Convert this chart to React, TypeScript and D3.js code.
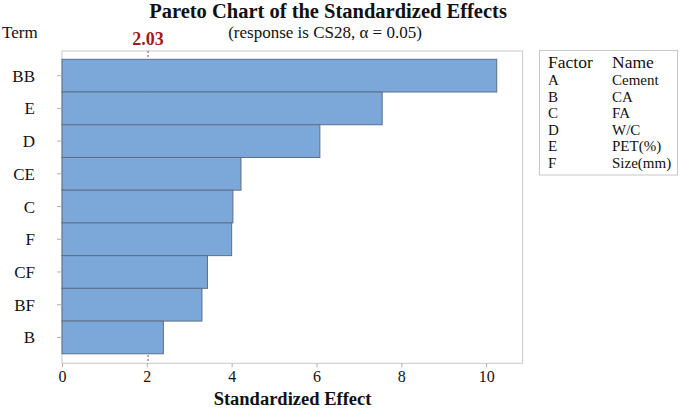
import React, { useRef, useEffect } from 'react';
import * as d3 from 'd3';

const terms = ['BB', 'E', 'D', 'CE', 'C', 'F', 'CF', 'BF', 'B'];
const effects = [10.25, 7.55, 6.08, 4.22, 4.03, 4.0, 3.43, 3.3, 2.39];
const xTicks = [0, 2, 4, 6, 8, 10];
const criticalValue = 2.03;
const factorCodes = ['A', 'B', 'C', 'D', 'E', 'F'];
const factorNames = ['Cement', 'CA', 'FA', 'W/C', 'PET(%)', 'Size(mm)'];

const App = () => {
    const chartRef = useRef<SVGSVGElement>(null);

    useEffect(() => {
        const width = 685;
        const height = 408;
        const frame = { left: 62, right: 522.6, top: 51, bottom: 363.3 };
        const font = "'Liberation Serif', 'Times New Roman', serif";

        const x = d3.scaleLinear()
            .domain([0, 10.86])
            .range([frame.left, frame.right]);

        const y = d3.scaleBand()
            .domain(terms)
            .range([59.3, 353.8])
            .padding(0);

        const svg = d3.select(chartRef.current)
            .attr('width', width)
            .attr('height', height)
            .attr('font-family', font);

        svg.selectAll('*').remove();

        const label = (g, px, py, txt, size, opts: any = {}) =>
            g.append('text')
                .attr('x', px)
                .attr('y', py)
                .attr('text-anchor', opts.anchor || 'start')
                .attr('fill', opts.color || '#111')
                .style('font-family', font)
                .style('font-size', size + 'px')
                .style('font-weight', opts.bold ? 'bold' : 'normal')
                .text(txt);

        // frame
        svg.append('rect')
            .attr('x', frame.left)
            .attr('y', frame.top)
            .attr('width', frame.right - frame.left)
            .attr('height', frame.bottom - frame.top)
            .attr('fill', 'none')
            .attr('stroke', '#c8c8c8')
            .attr('stroke-width', 1);

        // reference line (behind bars)
        svg.append('line')
            .attr('x1', x(criticalValue))
            .attr('x2', x(criticalValue))
            .attr('y1', frame.top)
            .attr('y2', frame.bottom)
            .attr('stroke', '#a52a2a')
            .attr('stroke-width', 0.9)
            .attr('stroke-dasharray', '2,2');

        svg.append('g')
            .selectAll('rect')
            .data(effects)
            .join('rect')
            .attr('x', x(0))
            .attr('y', (d, i) => y(terms[i]) as number)
            .attr('width', d => x(d) - x(0))
            .attr('height', y.bandwidth())
            .attr('fill', '#7ba7d9')
            .attr('stroke', '#5d6f88')
            .attr('stroke-width', 1);

        // x axis
        const xAxis = svg.append('g')
            .attr('transform', `translate(0,${frame.bottom})`)
            .call(d3.axisBottom(x).tickValues(xTicks).tickSize(4).tickSizeOuter(0));
        xAxis.attr('font-family', font);
        xAxis.select('.domain').remove();
        xAxis.selectAll('line').attr('stroke', '#b0b0b0');
        xAxis.selectAll('text')
            .style('font-family', font)
            .style('font-size', '16px')
            .attr('fill', '#111')
            .attr('dy', null)
            .attr('y', 18.5);

        // y axis
        const yAxis = svg.append('g')
            .attr('transform', `translate(${frame.left},0)`)
            .call(d3.axisLeft(y).tickSize(5).tickSizeOuter(0).tickPadding(22));
        yAxis.attr('font-family', font);
        yAxis.select('.domain').remove();
        yAxis.selectAll('line').attr('stroke', '#b0b0b0');
        yAxis.selectAll('text')
            .style('font-family', font)
            .style('font-size', '17px')
            .attr('fill', '#111')
            .attr('dy', '0.35em');

        label(svg, 2, 38, 'Term', 17);
        label(svg, x(criticalValue), 45, criticalValue.toFixed(2), 18, { anchor: 'middle', bold: true, color: '#9b1c1c' });

        // titles
        label(svg, 328, 18, 'Pareto Chart of the Standardized Effects', 20.5, { anchor: 'middle', bold: true });
        label(svg, 325, 37.5, '(response is CS28, α = 0.05)', 17, { anchor: 'middle' });
        label(svg, 292.5, 405, 'Standardized Effect', 18.5, { anchor: 'middle', bold: true });

        // factor legend
        const legend = svg.append('g');
        legend.append('rect')
            .attr('x', 539.5)
            .attr('y', 50.5)
            .attr('width', 138)
            .attr('height', 124.5)
            .attr('fill', 'none')
            .attr('stroke', '#c8c8c8');
        label(legend, 548, 68, 'Factor', 17.5);
        label(legend, 612, 68, 'Name', 17.5);
        factorCodes.forEach((c, i) => {
            label(legend, 548, 85 + i * 16.6, c, 15);
            label(legend, 612, 85 + i * 16.6, factorNames[i], 15);
        });
    }, []);

    return (
        <svg ref={chartRef} style={{ position: 'absolute', left: 0, top: 0 }}></svg>
    );
};

export default App;
